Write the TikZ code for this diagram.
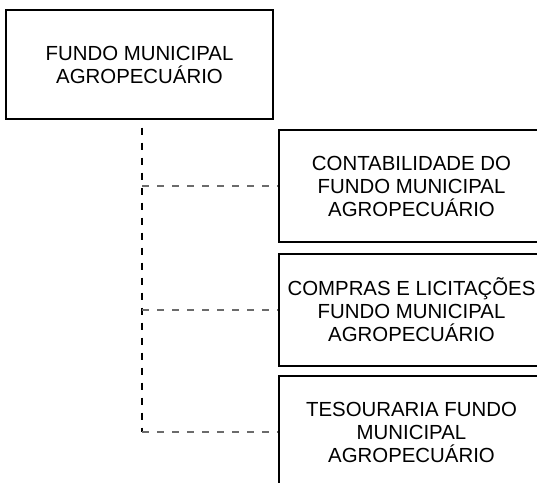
\documentclass[tikz,border=0pt]{standalone}
\usepackage{fontspec}
\setmainfont{Liberation Sans}
\usepackage{tikz}
\usetikzlibrary{positioning}
\tikzset{%
  every unit/.style={
    rectangle,
    draw=black,
    line width=1.1pt,
    align=center,
    inner sep=0pt,
    font=\fontsize{15.3}{17.25}\selectfont
  },
  unit main/.style={
    every unit,
    minimum width=200.25pt,
    minimum height=81.75pt
  },
  unit sub/.style={
    every unit,
    minimum width=198.75pt,
    minimum height=84pt
  },
  link trunk/.style={
    black,
    line width=0.9pt,
    dash pattern=on 5.25pt off 6pt,
    dash phase=5.25pt
  },
  link branch/.style={
    black!58,
    line width=1.5pt,
    dash pattern=on 5.25pt off 6pt
  },
}

\begin{document}
\begin{tikzpicture}[x=0.75pt, y=-0.75pt]
\clip (0,0) rectangle (537,483);
\fill[white] (0,0) rectangle (537,483);

    \node[unit main] (fundo) at (139.5,64.5) {FUNDO MUNICIPAL\\AGROPECUÁRIO};

    \node[unit sub] (contab) at (411.5,186) {CONTABILIDADE DO\\FUNDO MUNICIPAL\\AGROPECUÁRIO};
    \node[unit sub, below=7.8pt of contab] (compras) {COMPRAS E LICITAÇÕES\\FUNDO MUNICIPAL\\AGROPECUÁRIO};
    \node[unit sub, below=6.6pt of compras] (tesouraria) {TESOURARIA FUNDO\\MUNICIPAL\\AGROPECUÁRIO};

    \coordinate (trunk) at ([xshift=1.9pt]fundo.south);

    \draw[link trunk]  (trunk) -- (trunk |- tesouraria.west);

    \draw[link branch]  (trunk |- contab.west) -- (contab.west);
    \draw[link branch]  (trunk |- compras.west) -- (compras.west);
    \draw[link branch]  (trunk |- tesouraria.west) -- (tesouraria.west);
\end{tikzpicture}
\end{document}
